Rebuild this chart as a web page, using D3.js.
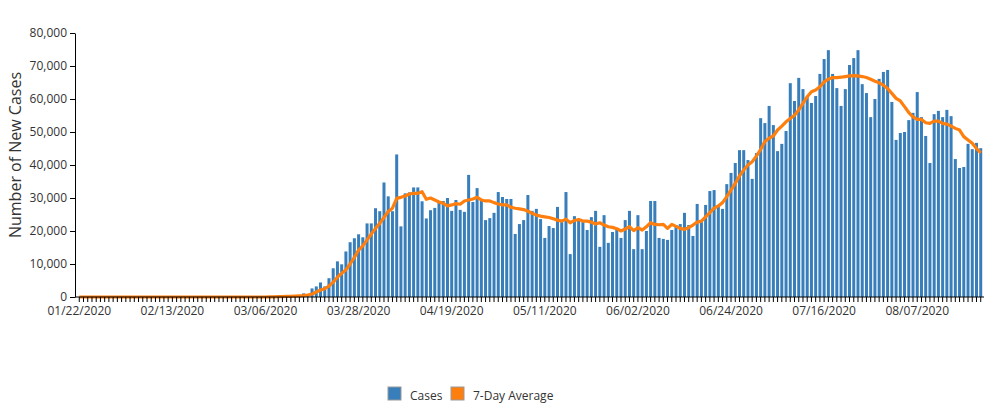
<!DOCTYPE html>
<html>
<head>
<meta charset="utf-8">
<script src="https://cdn.jsdelivr.net/npm/d3@7"></script>
<style>
  body { margin: 0; background: #fff; }
  svg text { font-family: "Open Sans", sans-serif; fill: #333; }
</style>
</head>
<body>
<svg id="chart" width="990" height="408"></svg>
<script>
// daily new cases, 01/22/2020 .. 08/22/2020
const cases = [
  0, 0, 0, 0, 0, 0, 0, 0, 0, 0,
  0, 0, 0, 0, 0, 0, 0, 0, 0, 0,
  0, 0, 0, 0, 0, 0, 0, 0, 0, 0,
  0, 0, 0, 0, 0, 0, 0, 0, 0, 0,
  20, 30, 40, 60, 70, 100, 120, 150, 200, 250, 300, 400, 450,
  1100, 300,
  2600, 3200, 4400, 3200, 5700, 8700, 10800, 9900, 13800, 16600,
  17800, 19000, 18100, 22300, 22300, 26900, 26000, 34700, 30500, 26000,
  43200, 21400, 31400, 31700, 33200, 33200, 29000, 23800, 26300,
  27000, 28800, 29100, 30000, 26100, 29400, 26400, 25800, 37000, 28800,
  33000, 29100, 23300, 23900, 25500, 31800, 30300, 29700, 29700, 19100,
  22100, 23300, 30900, 26100, 26700, 23600, 17900, 21500, 20900, 27300,
  22700, 31800, 13000,
  24500, 23300, 22700, 20300, 24200, 26100, 15200, 24800, 16400, 19700,
  20900, 17900, 23300, 26100, 14500, 24800, 14500, 20000, 29100, 29100,
  17900, 17600, 17300, 20300, 21800, 22100, 25500, 21800, 18500, 28200,
  22700, 27900, 32100,
  32400, 27600, 26700, 34200, 37600, 40600, 44500, 44500, 41500, 35800,
  43600, 54200, 52700, 57900, 52100, 44200, 46400, 50300, 64800, 59400,
  66400, 63000, 60600, 58800, 60900, 67600, 72100, 74800, 67600, 63300,
  57900, 63000, 70300,
  72400, 74800, 64500, 61800, 54500, 60000, 66100, 68200, 68800, 59100,
  47600, 49700, 50000, 53600, 55800, 62100, 54500, 48800, 40600, 55400,
  56400, 54500, 56700, 54800, 41800, 39100, 39400, 46400, 44800, 46700,
  45100
];

// 7-day average
const avg7 = [
  0, 0, 0, 0, 0, 0, 0, 0, 0, 0,
  0, 0, 0, 0, 0, 0, 0, 0, 0, 0,
  0, 0, 0, 0, 0, 0, 0, 0, 0, 0,
  0, 0, 0, 0, 0, 0, 0, 0, 0, 0,
  0, 0, 0, 0, 0,
  40, 60, 90, 120, 160, 200, 260, 330, 420, 600,
  900, 1500, 2100, 2500, 3300, 4500, 6000, 7200, 8200, 10000,
  12000, 14200, 15500, 17300, 19100, 20800, 22300, 24100, 25900, 26900,
  29900, 30200, 30600, 31200, 31400, 31400, 31900, 29600, 30000,
  29400, 28800, 28400, 27600, 27900, 28300, 28100, 29100, 29400, 29700,
  30200, 29400, 29100, 29100, 28600, 28200, 27900, 27900, 27200, 26900,
  26700, 26500, 26000, 25400, 24800, 24500, 24300, 24100, 23700, 23300,
  23000, 23600, 22500,
  23200, 23500, 23000, 23000, 22700, 22100, 22500, 21800, 21300, 21100,
  20700, 20000, 20600, 21300, 20100, 21000, 20300, 21300, 22500, 22000,
  21900, 22000, 20800, 22000, 21400, 20800, 20500, 21000, 21800, 22700,
  23000, 24300, 25600,
  26900, 27600, 28600, 30400, 32400, 34400, 36700, 38500, 40000, 41000,
  42700, 44700, 47100, 48100, 48800, 50600, 51800, 53100, 54100, 55100,
  56700, 58700, 60700, 62200, 62700, 63700, 65200, 66000, 66500, 66500,
  66600, 66800, 67000,
  67100, 67000, 66800, 66500, 66000, 65400, 64900, 64200, 63200, 61700,
  60200, 59400, 57700, 55900, 54600, 53800, 53800, 52800, 52600, 53300,
  53300, 52600, 52400, 51800, 51100, 50600, 48600, 47600, 46600, 45000,
  43700
];

const tickLabels = ["01/22/2020", "02/13/2020", "03/06/2020", "03/28/2020", "04/19/2020",
  "05/11/2020", "06/02/2020", "06/24/2020", "07/16/2020", "08/07/2020"];
const yTicks = [0, 10000, 20000, 30000, 40000, 50000, 60000, 70000, 80000];
const legendItems = ["Cases", "7-Day Average"];

const BLUE = "#377ebb";
const ORANGE = "#ff7f0e";

const fmtDate = d3.timeFormat("%m/%d/%Y");
const dates = d3.timeDay.range(new Date(2020, 0, 22), new Date(2020, 0, 22 + cases.length)).map(fmtDate);
const data = dates.map((d, i) => ({ date: d, cases: cases[i], avg: avg7[i] }));

const svg = d3.select("#chart");

const x = d3.scaleBand()
  .domain(dates)
  .range([76, 984])
  .paddingInner(0.29)
  .paddingOuter(0.42);

const y = d3.scaleLinear()
  .domain([0, 80000])
  .range([297, 33]);

// bars
svg.append("g")
  .selectAll("rect")
  .data(data)
  .join("rect")
  .attr("x", d => x(d.date))
  .attr("width", x.bandwidth())
  .attr("y", d => y(d.cases))
  .attr("height", d => y(0) - y(d.cases))
  .attr("fill", BLUE);

// 7-day average line
const line = d3.line()
  .x(d => x(d.date) + x.bandwidth() / 2)
  .y(d => y(d.avg));

svg.append("path")
  .datum(data)
  .attr("d", line)
  .attr("fill", "none")
  .attr("stroke", ORANGE)
  .attr("stroke-width", 3.2)
  .attr("stroke-linejoin", "round");

// x axis - a tick for every day, label every 22nd
const xAxis = d3.axisBottom(x)
  .tickSize(5)
  .tickSizeOuter(0)
  .tickPadding(3)
  .tickFormat(d => tickLabels.includes(d) ? d : "");

const gx = svg.append("g")
  .attr("transform", "translate(0,297)")
  .call(xAxis);
gx.select(".domain").attr("d", "M75,0H984");
gx.selectAll("text").style("font-size", "12px").attr("dy", "0.8em");

// y axis
const yAxis = d3.axisLeft(y)
  .tickValues(yTicks)
  .tickSize(5)
  .tickSizeOuter(0)
  .tickPadding(3)
  .tickFormat(d3.format(","));

const gy = svg.append("g")
  .attr("transform", "translate(75,0)")
  .call(yAxis);
gy.selectAll("text").style("font-size", "12px");

svg.selectAll(".domain, .tick line").attr("stroke", "#000");

// axis title
svg.append("text")
  .attr("transform", "translate(21,155) rotate(-90)")
  .attr("text-anchor", "middle")
  .style("font-size", "16px")
  .text("Number of New Cases");

// legend
const legend = svg.append("g").attr("transform", "translate(388,387)");
const legendX = [0, 63];
legend.selectAll("rect")
  .data(legendItems)
  .join("rect")
  .attr("x", (d, i) => legendX[i])
  .attr("width", 13)
  .attr("height", 13)
  .attr("fill", (d, i) => i === 0 ? BLUE : ORANGE)
  .attr("stroke", "#999")
  .attr("stroke-width", 1);
legend.selectAll("text")
  .data(legendItems)
  .join("text")
  .attr("x", (d, i) => legendX[i] + 22)
  .attr("y", 13)
  .style("font-size", "12px")
  .text(d => d);
</script>
</body>
</html>
